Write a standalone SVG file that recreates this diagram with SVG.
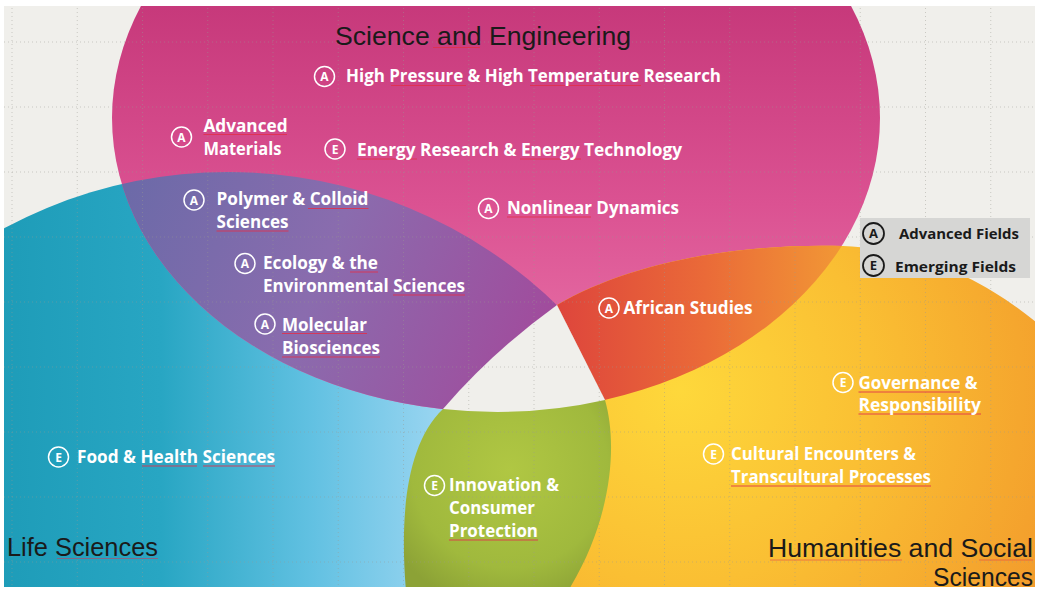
<svg xmlns="http://www.w3.org/2000/svg" width="1039" height="591" viewBox="0 0 1039 591">
<style>
.lb{font-family:"Open Sans","Liberation Sans",sans-serif;font-weight:700;font-size:17px;fill:#ffffff}
.tt{font-family:"Liberation Sans","Open Sans",sans-serif;font-weight:400;font-size:25px;fill:#1a1a1a}
.lg{font-family:"Open Sans","Liberation Sans",sans-serif;font-weight:700;font-size:15px;fill:#1a1a1a}
.bc{fill:none;stroke:#ffffff;stroke-width:1.5}
.bl{font-family:"Open Sans","Liberation Sans",sans-serif;font-weight:700;font-size:12px;fill:#ffffff;text-anchor:middle}
.lc{fill:none;stroke:#1a1a1a;stroke-width:1.8}
.ll{font-family:"Open Sans","Liberation Sans",sans-serif;font-weight:700;font-size:13px;fill:#1a1a1a;text-anchor:middle}
.grid line{stroke:#9a9a92;stroke-width:1;stroke-dasharray:1 3;opacity:.45}
.ul line{stroke:#e2304c;stroke-width:1;opacity:.85}
</style>
<defs>
<clipPath id="frame"><rect x="4" y="6" width="1031" height="581"/></clipPath>
<clipPath id="blueClip"><circle cx="228" cy="645" r="473"/></clipPath>
<clipPath id="orangeClip"><path d="M557,305 C630,262 740,243 843,246 C930,250 990,285 1036,322 L1036,591 L560,591 L605,400 Z"/></clipPath>
<linearGradient id="gPink" gradientUnits="userSpaceOnUse" x1="0" y1="0" x2="0" y2="410">
<stop offset="0" stop-color="#c6387a"/><stop offset="0.5" stop-color="#db5292"/><stop offset="1" stop-color="#ea78ac"/>
</linearGradient>
<linearGradient id="gPurple" gradientUnits="userSpaceOnUse" x1="120" y1="200" x2="560" y2="380">
<stop offset="0" stop-color="#6c6aa8"/><stop offset="0.45" stop-color="#8a6cae"/><stop offset="1" stop-color="#a4479a"/>
</linearGradient>
<linearGradient id="gBlue" gradientUnits="userSpaceOnUse" x1="0" y1="0" x2="460" y2="0">
<stop offset="0" stop-color="#1e9cb8"/><stop offset="0.35" stop-color="#28a6c3"/><stop offset="0.68" stop-color="#62c1e2"/><stop offset="1" stop-color="#a2d8f3"/>
</linearGradient>
<radialGradient id="gOrange" gradientUnits="userSpaceOnUse" cx="680" cy="390" r="430">
<stop offset="0" stop-color="#fed83b"/><stop offset="0.45" stop-color="#fabf33"/><stop offset="1" stop-color="#f2982b"/>
</radialGradient>
<linearGradient id="gRed" gradientUnits="userSpaceOnUse" x1="560" y1="0" x2="850" y2="0">
<stop offset="0" stop-color="#de463c"/><stop offset="0.5" stop-color="#ea6a38"/><stop offset="1" stop-color="#f29a35"/>
</linearGradient>
<radialGradient id="gGreen" gradientUnits="userSpaceOnUse" cx="510" cy="470" r="140">
<stop offset="0" stop-color="#b0c743"/><stop offset="0.7" stop-color="#a0b93d"/><stop offset="1" stop-color="#8ca236"/>
</radialGradient>
</defs>
<rect x="0" y="0" width="1039" height="591" fill="#ffffff"/>
<g clip-path="url(#frame)">
<rect x="0" y="0" width="1039" height="591" fill="#f0efeb"/>
<g id="life-sciences-shape"><circle cx="228" cy="645" r="473" fill="url(#gBlue)"/></g>
<g id="science-engineering-shape"><ellipse cx="496" cy="118" rx="384" ry="294" fill="url(#gPink)"/></g>
<g id="overlap-life-science" clip-path="url(#blueClip)"><ellipse cx="496" cy="118" rx="384" ry="294" fill="url(#gPurple)"/></g>
<g id="humanities-shape"><path d="M557,305 C630,262 740,243 843,246 C930,250 990,285 1036,322 L1036,591 L560,591 L605,400 Z" fill="url(#gOrange)"/></g>
<g id="overlap-science-humanities" clip-path="url(#orangeClip)"><ellipse cx="496" cy="118" rx="384" ry="294" fill="url(#gRed)"/></g>
<g id="center-gap"><path d="M557,305 L605,400 L605,420 L443,420 L443,409 Q492,352 557,305 Z" fill="#f0efeb"/></g>
<g id="innovation-shape"><path d="M443,409 A384,294 0 0 0 605,400 C618,445 612,520 568,591 L406,591 C400,520 405,445 443,409 Z" fill="url(#gGreen)"/></g>
<g class="grid">
<line x1="12" y1="0" x2="12" y2="591"/><line x1="77.25" y1="0" x2="77.25" y2="591"/><line x1="142.5" y1="0" x2="142.5" y2="591"/><line x1="207.75" y1="0" x2="207.75" y2="591"/><line x1="273" y1="0" x2="273" y2="591"/><line x1="338.25" y1="0" x2="338.25" y2="591"/><line x1="403.5" y1="0" x2="403.5" y2="591"/><line x1="468.75" y1="0" x2="468.75" y2="591"/><line x1="534" y1="0" x2="534" y2="591"/><line x1="599.25" y1="0" x2="599.25" y2="591"/><line x1="664.5" y1="0" x2="664.5" y2="591"/><line x1="729.75" y1="0" x2="729.75" y2="591"/><line x1="795" y1="0" x2="795" y2="591"/><line x1="860.25" y1="0" x2="860.25" y2="591"/><line x1="925.5" y1="0" x2="925.5" y2="591"/><line x1="990.75" y1="0" x2="990.75" y2="591"/>
<line x1="0" y1="42" x2="1039" y2="42"/><line x1="0" y1="107" x2="1039" y2="107"/><line x1="0" y1="172" x2="1039" y2="172"/><line x1="0" y1="237" x2="1039" y2="237"/><line x1="0" y1="302" x2="1039" y2="302"/><line x1="0" y1="367" x2="1039" y2="367"/><line x1="0" y1="432" x2="1039" y2="432"/><line x1="0" y1="497" x2="1039" y2="497"/><line x1="0" y1="562" x2="1039" y2="562"/>
</g>
</g>

<g class="ul">
<line x1="433" y1="47.5" x2="480" y2="47.5"/>
<line x1="391" y1="85.5" x2="466" y2="85.5"/>
<line x1="530" y1="85.5" x2="641" y2="85.5"/>
<line x1="357" y1="159" x2="417" y2="159"/>
<line x1="520" y1="159" x2="581" y2="159"/>
<line x1="203.5" y1="134.5" x2="287" y2="134.5"/>
<line x1="308" y1="208.5" x2="368.5" y2="208.5"/>
<line x1="216.5" y1="231" x2="288.5" y2="231"/>
<line x1="350" y1="272" x2="378" y2="272"/>
<line x1="393" y1="295" x2="465" y2="295"/>
<line x1="282" y1="333.5" x2="367" y2="333.5"/>
<line x1="282" y1="357" x2="380" y2="357"/>
<line x1="507" y1="217" x2="591" y2="217"/>
<line x1="142" y1="466" x2="197" y2="466"/>
<line x1="203" y1="466" x2="275" y2="466"/>
<line x1="57" y1="558.5" x2="158" y2="558.5" style="opacity:.5"/>
<line x1="449" y1="540" x2="538" y2="540"/>
<line x1="858.5" y1="392" x2="960" y2="392"/>
<line x1="858.5" y1="414" x2="981" y2="414"/>
<line x1="731" y1="486" x2="931" y2="486"/>
<line x1="770" y1="560" x2="902" y2="560" style="opacity:.5"/>
<line x1="979" y1="560" x2="1033" y2="560" style="opacity:.5"/>
<line x1="899" y1="241" x2="974" y2="241"/>
</g>

<g id="title-science"><text class="tt" x="335" y="45" textLength="296" lengthAdjust="spacingAndGlyphs">Science and Engineering</text></g>
<g id="title-life"><text class="tt" x="7" y="556" textLength="151" lengthAdjust="spacingAndGlyphs">Life Sciences</text></g>
<g id="title-humanities">
<text class="tt" x="768" y="557" textLength="265" lengthAdjust="spacingAndGlyphs">Humanities and Social</text>
<text class="tt" x="933" y="586" textLength="100" lengthAdjust="spacingAndGlyphs">Sciences</text>
</g>

<g id="high-pressure"><circle class="bc" cx="324.5" cy="76.5" r="10"/><text class="bl" x="324.5" y="81">A</text>
<text class="lb" x="346" y="82" textLength="375" lengthAdjust="spacingAndGlyphs">High Pressure &amp; High Temperature Research</text></g>
<g id="energy"><circle class="bc" cx="335" cy="149" r="10"/><text class="bl" x="335" y="153.5">E</text>
<text class="lb" x="357" y="156" textLength="325" lengthAdjust="spacingAndGlyphs">Energy Research &amp; Energy Technology</text></g>
<g id="advanced-materials"><circle class="bc" cx="181.5" cy="137" r="10"/><text class="bl" x="181.5" y="141.5">A</text>
<text class="lb" x="203.5" y="132" textLength="84" lengthAdjust="spacingAndGlyphs">Advanced</text>
<text class="lb" x="203.5" y="155" textLength="78" lengthAdjust="spacingAndGlyphs">Materials</text></g>
<g id="polymer"><circle class="bc" cx="194" cy="200" r="10"/><text class="bl" x="194" y="204.5">A</text>
<text class="lb" x="216.5" y="205" textLength="152" lengthAdjust="spacingAndGlyphs">Polymer &amp; Colloid</text>
<text class="lb" x="216.5" y="228" textLength="72" lengthAdjust="spacingAndGlyphs">Sciences</text></g>
<g id="ecology"><circle class="bc" cx="245" cy="263.5" r="10"/><text class="bl" x="245" y="268">A</text>
<text class="lb" x="263" y="269" textLength="115" lengthAdjust="spacingAndGlyphs">Ecology &amp; the</text>
<text class="lb" x="263" y="292" textLength="202" lengthAdjust="spacingAndGlyphs">Environmental Sciences</text></g>
<g id="molecular"><circle class="bc" cx="265" cy="324" r="10"/><text class="bl" x="265" y="328.5">A</text>
<text class="lb" x="282" y="330.5" textLength="85" lengthAdjust="spacingAndGlyphs">Molecular</text>
<text class="lb" x="282" y="354" textLength="98" lengthAdjust="spacingAndGlyphs">Biosciences</text></g>
<g id="nonlinear"><circle class="bc" cx="488.5" cy="208.5" r="10"/><text class="bl" x="488.5" y="213">A</text>
<text class="lb" x="507" y="214" textLength="172" lengthAdjust="spacingAndGlyphs">Nonlinear Dynamics</text></g>
<g id="african"><circle class="bc" cx="609" cy="308" r="10"/><text class="bl" x="609" y="312.5">A</text>
<text class="lb" x="623.5" y="314" textLength="129" lengthAdjust="spacingAndGlyphs">African Studies</text></g>
<g id="food"><circle class="bc" cx="58.5" cy="457" r="10"/><text class="bl" x="58.5" y="461.5">E</text>
<text class="lb" x="77" y="463" textLength="198" lengthAdjust="spacingAndGlyphs">Food &amp; Health Sciences</text></g>
<g id="innovation"><circle class="bc" cx="434.5" cy="485.5" r="10"/><text class="bl" x="434.5" y="490">E</text>
<text class="lb" x="449" y="491" textLength="110" lengthAdjust="spacingAndGlyphs">Innovation &amp;</text>
<text class="lb" x="449" y="514" textLength="86" lengthAdjust="spacingAndGlyphs">Consumer</text>
<text class="lb" x="449" y="537" textLength="89" lengthAdjust="spacingAndGlyphs">Protection</text></g>
<g id="governance"><circle class="bc" cx="843" cy="382.5" r="10"/><text class="bl" x="843" y="387">E</text>
<text class="lb" x="858.5" y="389" textLength="119" lengthAdjust="spacingAndGlyphs">Governance &amp;</text>
<text class="lb" x="858.5" y="411" textLength="122.5" lengthAdjust="spacingAndGlyphs">Responsibility</text></g>
<g id="cultural"><circle class="bc" cx="713.5" cy="454" r="10"/><text class="bl" x="713.5" y="458.5">E</text>
<text class="lb" x="731" y="460" textLength="185" lengthAdjust="spacingAndGlyphs">Cultural Encounters &amp;</text>
<text class="lb" x="731" y="483" textLength="200" lengthAdjust="spacingAndGlyphs">Transcultural Processes</text></g>

<g id="legend">
<rect x="860" y="218" width="170" height="60" fill="#d6d6d4"/>
<circle class="lc" cx="873.5" cy="233.5" r="10.5"/><text class="ll" x="873.5" y="238">A</text>
<text class="lg" x="899" y="238.5" textLength="120" lengthAdjust="spacingAndGlyphs">Advanced Fields</text>
<circle class="lc" cx="873.5" cy="265.5" r="10.5"/><text class="ll" x="873.5" y="270">E</text>
<text class="lg" x="895" y="271.5" textLength="121" lengthAdjust="spacingAndGlyphs">Emerging Fields</text>
</g>
</svg>
